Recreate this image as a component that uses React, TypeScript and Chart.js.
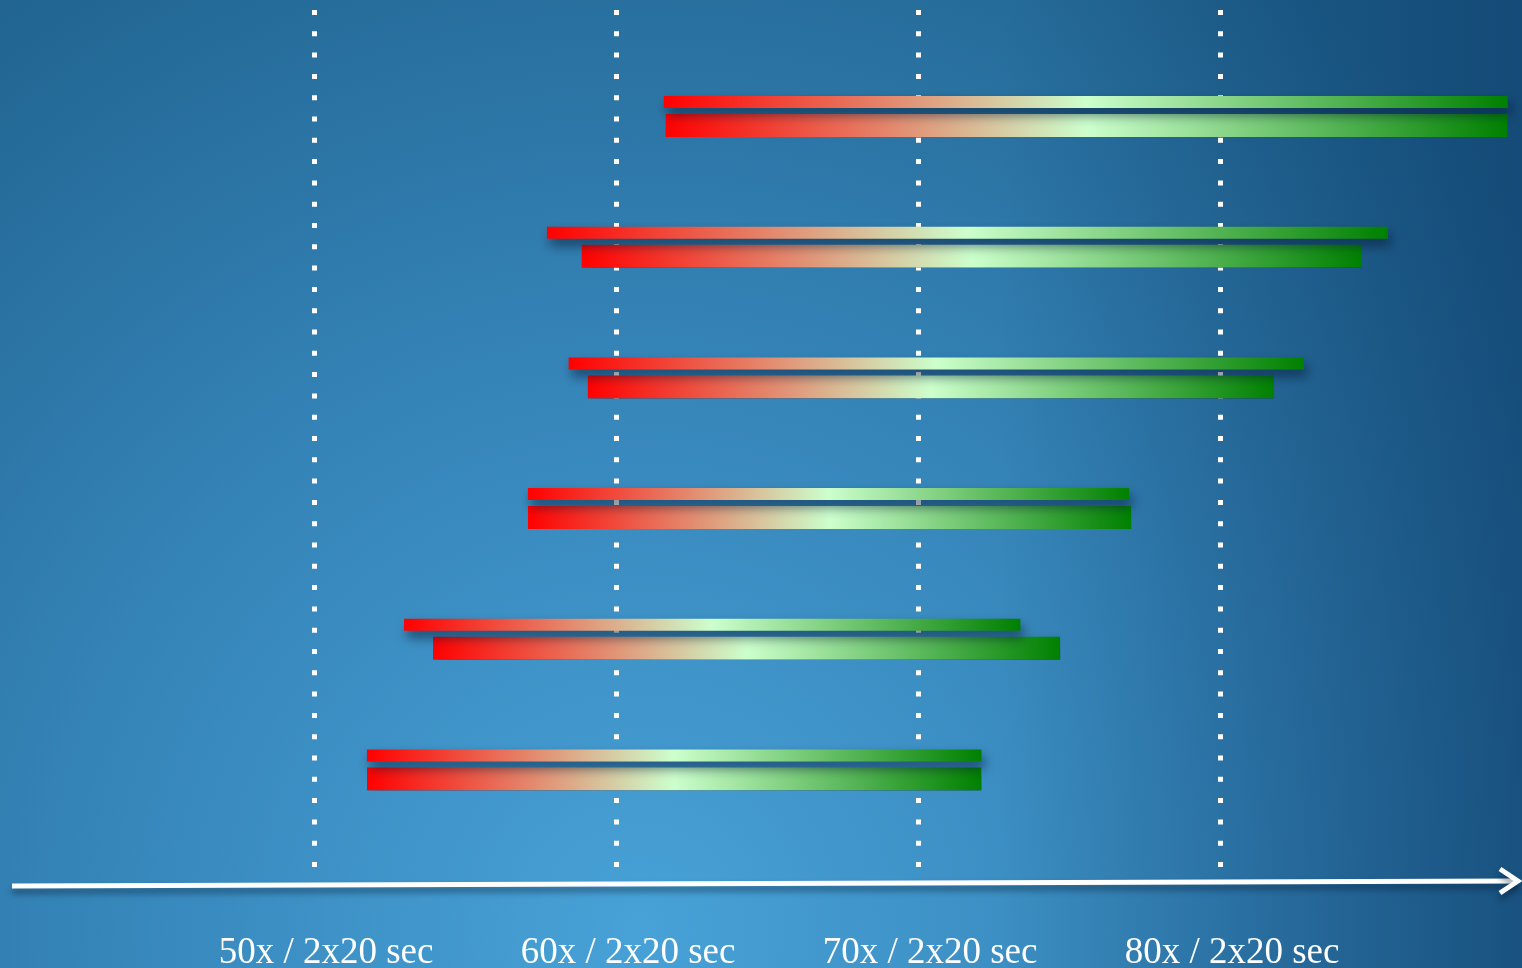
import React, { useEffect, useRef } from "react";
import { Chart, registerables } from "chart.js";

Chart.register(...registerables);

// Row identifiers (top to bottom)
const rowIds = [1, 2, 3, 4, 5, 6];
// Upper (thin) bars: start / end
const upperStart = [61.58, 57.71, 58.43, 57.08, 52.98, 51.75];
const upperEnd = [89.53, 85.56, 82.78, 76.99, 73.39, 72.1];
// Lower (thick) bars: start / end
const lowerStart = [61.64, 58.86, 59.06, 57.08, 53.94, 51.75];
const lowerEnd = [89.53, 84.7, 81.79, 77.06, 74.71, 72.1];
// X axis ticks
const tickValues = [50, 60, 70, 80];
const tickLabels = ["50x / 2x20 sec", "60x / 2x20 sec", "70x / 2x20 sec", "80x / 2x20 sec"];

const SERIF = '"Liberation Serif", "Times New Roman", serif';

const barGradient = (ctx: any) => {
  const chart = ctx.chart;
  const xs = chart.scales && chart.scales.x;
  const raw = ctx.raw;
  if (!xs || !raw || !Array.isArray(raw.x)) return "#ff0000";
  const x0 = xs.getPixelForValue(raw.x[0]);
  const x1 = xs.getPixelForValue(raw.x[1]);
  if (!isFinite(x0) || !isFinite(x1) || x0 === x1) return "#ff0000";
  const g = chart.ctx.createLinearGradient(x0, 0, x1, 0);
  g.addColorStop(0, "#ff0000");
  g.addColorStop(0.5, "#ccffcc");
  g.addColorStop(1, "#008000");
  return g;
};

const backgroundPlugin = {
  id: "slideBackground",
  beforeDraw(chart: any) {
    const { ctx, width, height } = chart;
    ctx.save();
    const r = ctx.createRadialGradient(640, 930, 0, 640, 930, 1150);
    r.addColorStop(0, "#48a2d7");
    r.addColorStop(0.5, "#3584b8");
    r.addColorStop(1, "#20638f");
    ctx.fillStyle = r;
    ctx.fillRect(0, 0, width, height);
    const l = ctx.createLinearGradient(1000, 0, width, 0);
    l.addColorStop(0, "rgba(8,50,95,0)");
    l.addColorStop(1, "rgba(8,50,95,0.5)");
    ctx.fillStyle = l;
    ctx.fillRect(0, 0, width, height);
    ctx.restore();
  },
};

const shadowPlugin = {
  id: "barShadow",
  beforeDatasetsDraw(chart: any) {
    const c = chart.ctx;
    c.save();
    c.shadowColor = "rgba(5,25,50,0.6)";
    c.shadowBlur = 12;
    c.shadowOffsetX = 3;
    c.shadowOffsetY = 7;
  },
  afterDatasetsDraw(chart: any) {
    chart.ctx.restore();
  },
};

const arrowPlugin = {
  id: "axisArrow",
  afterDraw(chart: any) {
    const { ctx, chartArea, width } = chart;
    const b = chartArea.bottom;
    ctx.save();
    ctx.strokeStyle = "#ffffff";
    ctx.lineWidth = 5;
    ctx.shadowColor = "rgba(5,25,50,0.5)";
    ctx.shadowBlur = 6;
    ctx.shadowOffsetY = 5;
    ctx.beginPath();
    ctx.moveTo(12, b + 16);
    ctx.lineTo(width - 6, b + 11);
    ctx.stroke();
    ctx.lineJoin = "miter";
    ctx.beginPath();
    ctx.moveTo(width - 22, b - 1);
    ctx.lineTo(width - 4, b + 11);
    ctx.lineTo(width - 22, b + 23);
    ctx.stroke();
    ctx.restore();
  },
};

export default function App() {
  const ref = useRef<HTMLCanvasElement | null>(null);
  useEffect(() => {
    document.body.style.margin = "0";
    const canvas = ref.current;
    if (!canvas) return;
    const chart = new Chart(canvas, {
      type: "bar",
      data: {
        datasets: [
          {
            label: "upper",
            data: rowIds.map((r, i) => ({ x: [upperStart[i], upperEnd[i]], y: r })) as any,
            backgroundColor: barGradient as any,
            barThickness: 12,
            borderWidth: 0,
            inflateAmount: 0,
          },
          {
            label: "lower",
            data: rowIds.map((r, i) => ({ x: [lowerStart[i], lowerEnd[i]], y: r })) as any,
            backgroundColor: barGradient as any,
            barThickness: 29,
            borderWidth: { top: 6, bottom: 0, left: 0, right: 0 },
            borderColor: "rgba(0,0,0,0)",
            borderSkipped: false,
            inflateAmount: 0,
          },
        ],
      },
      options: {
        indexAxis: "y",
        responsive: false,
        animation: false,
        devicePixelRatio: 1,
        layout: { padding: { top: 10, left: 0, right: 0, bottom: 0 } },
        plugins: { legend: { display: false }, tooltip: { enabled: false } },
        scales: {
          y: {
            type: "linear",
            reverse: true,
            min: 0.25,
            max: 6.83,
            offset: false,
            display: false,
          },
          x: {
            type: "linear",
            position: "bottom",
            min: 39.6,
            max: 90,
            afterBuildTicks: (s: any) => {
              s.ticks = tickValues.map((v) => ({ value: v }));
            },
            afterFit: (s: any) => {
              s.height = 98;
            },
            grid: {
              color: "#ffffff",
              lineWidth: 5,
              drawTicks: false,
              drawOnChartArea: true,
            },
            border: { display: false, dash: [5, 16.3], dashOffset: 0 },
            ticks: {
              color: "#ffffff",
              font: { family: SERIF, size: 37, lineHeight: 0.97 },
              padding: 65,
              labelOffset: 12,
              autoSkip: false,
              maxRotation: 0,
              minRotation: 0,
              callback: (_v: any, i: number) => tickLabels[i],
            },
          },
        },
      } as any,
      plugins: [backgroundPlugin, shadowPlugin, arrowPlugin],
    });
    return () => chart.destroy();
  }, []);
  return <canvas ref={ref} width={1522} height={968} style={{ display: "block" }} />;
}
